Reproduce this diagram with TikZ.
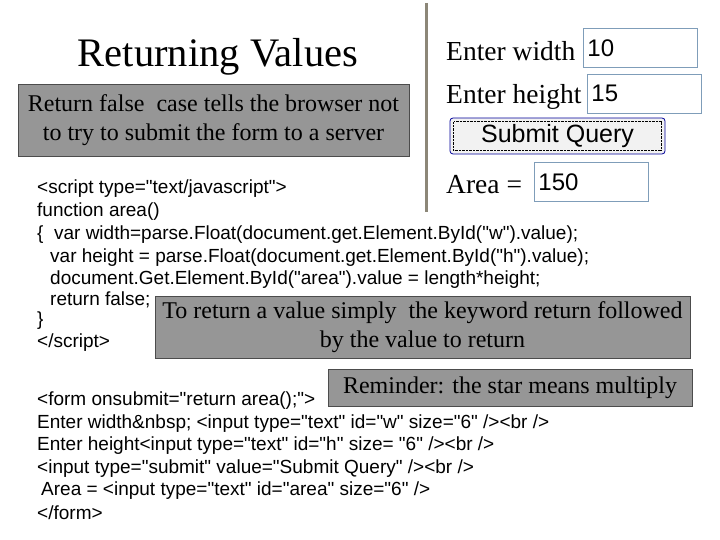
\documentclass[tikz,border=0pt]{standalone}
\usepackage{fontspec}
\setmainfont{Liberation Serif}
\newfontfamily\codefont{Liberation Sans}
\usetikzlibrary{positioning}
\definecolor{boxgray}{RGB}{150,150,150}
\definecolor{fieldline}{RGB}{127,157,185}
\definecolor{rulegray}{RGB}{140,135,120}
\tikzset{
    graybox/.style={
           rectangle,
           fill=boxgray,
           draw=black!70, thin,
           inner sep=2pt,
           align=center,
           font=\fontsize{24}{29}\selectfont,
           },
    codeline/.style={
           anchor=west,
           inner sep=0pt,
           font=\codefont\fontsize{19}{20}\selectfont,
           },
    uilabel/.style={
           anchor=west,
           inner sep=0pt,
           font=\fontsize{27.5}{29}\selectfont,
           },
    field/.style={
           draw=fieldline, thick,
           anchor=west,
           minimum width=114pt,
           minimum height=39pt,
           inner sep=3pt,
           text width=106pt,
           font=\codefont\fontsize{24}{26}\selectfont,
           },
}
\begin{document}
\begin{tikzpicture}[x=1pt, y=-1pt]
	\useasboundingbox (0,0) rectangle (720,540);
	
	\node[font=\fontsize{40.5}{44}\selectfont] (title) at (218,57) {Returning Values};
	
	\node[graybox, minimum width=391pt, minimum height=72pt] (note) at (213.5,120) {Return false\ \ case tells the browser not\\to try to submit the form to a server};
	
	% screenshot of the form
	\draw[line width=3pt, rulegray] (426,3) -- (426,212);
	\node[uilabel] (lw) at (446,51) {Enter width};
	\node[field] (fw) at (583,48) {10};
	\node[uilabel] (lh) at (446,97) {Enter height};
	\node[field] (fh) at (587,93.5) {15};
	\node[draw=blue!60!black, thick, rounded corners=3pt, fill=black!5, minimum width=215pt, minimum height=36pt,
		font=\codefont\fontsize{25}{27}\selectfont] (btn) at (557.5,136) {Submit Query};
	\draw[densely dotted] ([shift={(4pt,4pt)}]btn.south west) rectangle ([shift={(-4pt,-4pt)}]btn.north east);
	\node[uilabel] (la) at (446,185) {Area =};
	\node[field] (fa) at (534,182) {150};
	
	% code
	\node[codeline] (c1) at (37,189) {<script type="text/javascript">};
	\node[codeline] (c2) at (37,212) {function area()};
	\node[codeline] (c3) at (37,235) {\{\ \ var width=parse.Float(document.get.Element.ById("w").value);};
	\node[codeline] (c4) at (50,258) {var height = parse.Float(document.get.Element.ById("h").value);};
	\node[codeline] (c5) at (50,280) {document.Get.Element.ById("area").value = length*height;};
	\node[codeline] (c6) at (50,300) {return false;};
	\node[codeline] (c7) at (37,321) {\}};
	\node[codeline] (c8) at (37,343) {</script>};
	
	\node[graybox, minimum width=535pt, minimum height=62pt] (tip) at (422.5,327) {To return a value simply\ \ the keyword return followed\\by the value to return};
	\node[graybox, minimum width=364pt, minimum height=37pt] (rem) at (510,388) {Reminder: the star means multiply};
	
	\node[codeline] (f1) at (37,401) {<form onsubmit="return area();">};
	\node[codeline] (f2) at (37,424) {Enter width\&nbsp; <input type="text" id="w" size="6" /><br />};
	\node[codeline] (f3) at (37,446) {Enter height<input type="text" id="h" size= "6" /><br />};
	\node[codeline] (f4) at (37,469) {<input type="submit" value="Submit Query" /><br />};
	\node[codeline] (f5) at (41,491) {Area = <input type="text" id="area" size="6" />};
	\node[codeline] (f6) at (37,513) {</form>};
\end{tikzpicture}
\end{document}
